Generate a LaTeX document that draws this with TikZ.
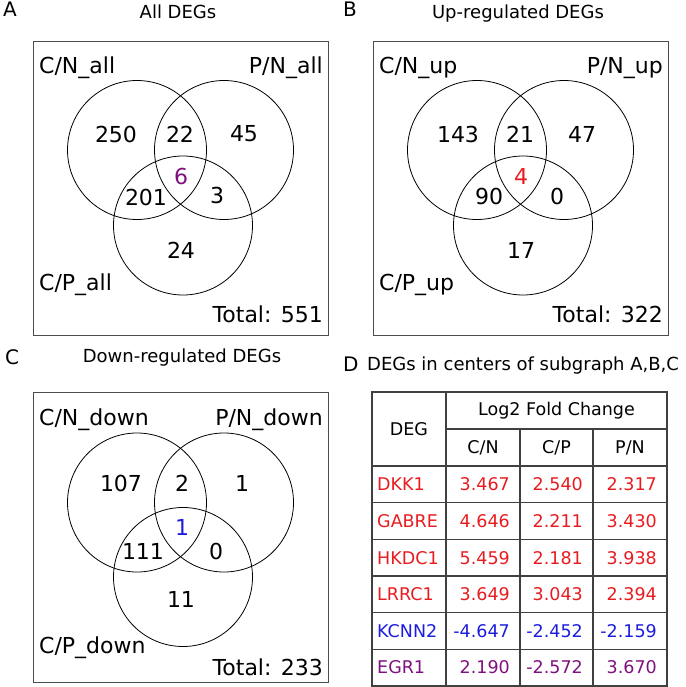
\documentclass[tikz,border=0pt]{standalone}
\usepackage{fontspec}
\setmainfont{DejaVu Sans}
\usetikzlibrary{positioning}

\definecolor{upred}{RGB}{232,28,32}
\definecolor{dnblue}{RGB}{28,28,222}
\definecolor{mixpurple}{RGB}{128,16,128}

\begin{document}
\begin{tikzpicture}[
  x=1pt, y=-1pt,
  font=\fontsize{22}{26}\selectfont,
  panel/.style={draw=black!70, line width=0.9pt},
  set/.style={
    circle, draw=black, line width=0.8pt,
    minimum size=139pt, inner sep=0pt
  },
  setlbl/.style={inner sep=0pt, font=\fontsize{22}{26}\selectfont},
  cnt/.style={inner sep=0pt, font=\fontsize{22}{26}\selectfont},
  ttl/.style={anchor=base, inner sep=0pt, font=\fontsize{18}{22}\selectfont},
  tag/.style={anchor=base west, inner sep=0pt, font=\fontsize{20}{24}\selectfont},
  cell/.style={inner sep=0pt, font=\fontsize{17.5}{21}\selectfont},
  grid/.style={draw=black!75, line width=1.2pt}
]
\useasboundingbox (0,0) rectangle (685,687);

% ─── A: all DEGs ────────────────────────────────────────────
\node[tag] (tagA) at (3,17) {A};
\node[ttl] (ttlA) at (178,19) {All DEGs};
\draw[panel] (33,41) rectangle (328,335);

\node[set] (a-cn) at (137,150) {};
\node[set] (a-pn) at (224,150) {};
\node[set] (a-cp) at (183,225.5) {};

\node[setlbl, anchor=base west] (a-lcn) at (39,74)  {C/N\_all};
\node[setlbl, anchor=base east] (a-lpn) at (323,74) {P/N\_all};
\node[setlbl, anchor=base west] (a-lcp) at (39,290) {C/P\_all};
\node[setlbl, anchor=base east] (a-tot) at (323,322) {Total: 551};

\node[cnt] (a-n1) at (116,134) {250};
\node[cnt] (a-n2) at (180,134) {22};
\node[cnt] (a-n3) at (244,134) {45};
\node[cnt, text=mixpurple] (a-n4) at (181,176) {6};
\node[cnt] (a-n5) at (146,197) {201};
\node[cnt] (a-n6) at (217,195) {3};
\node[cnt] (a-n7) at (181,250) {24};

% ─── B: up-regulated ────────────────────────────────────────
\begin{scope}[shift={(340,0)}]
\node[tag] (tagB) at (3,17) {B};
\node[ttl] (ttlB) at (178,19) {Up-regulated DEGs};
\draw[panel] (33,41) rectangle (328,335);

\node[set] (b-cn) at (137,150) {};
\node[set] (b-pn) at (224,150) {};
\node[set] (b-cp) at (183,225.5) {};

\node[setlbl, anchor=base west] (b-lcn) at (39,74)  {C/N\_up};
\node[setlbl, anchor=base east] (b-lpn) at (323,74) {P/N\_up};
\node[setlbl, anchor=base west] (b-lcp) at (39,290) {C/P\_up};
\node[setlbl, anchor=base east] (b-tot) at (323,322) {Total: 322};

\node[cnt] (b-n1) at (118,134) {143};
\node[cnt] (b-n2) at (180,134) {21};
\node[cnt] (b-n3) at (242,134) {47};
\node[cnt, text=upred] (b-n4) at (181,176) {4};
\node[cnt] (b-n5) at (149,196) {90};
\node[cnt] (b-n6) at (217,196) {0};
\node[cnt] (b-n7) at (181,250) {17};
\end{scope}

% ─── C: down-regulated ──────────────────────────────────────
\begin{scope}[shift={(0,351)}]
\node[tag] (tagC) at (5,13) {C};
\node[ttl] (ttlC) at (182,11) {Down-regulated DEGs};
\draw[panel] (33,41) rectangle (328,331);

\node[set] (c-cn) at (137,151.5) {};
\node[set] (c-pn) at (224,151.5) {};
\node[set] (c-cp) at (183,226) {};

\node[setlbl, anchor=base west] (c-lcn) at (39,74)  {C/N\_down};
\node[setlbl, anchor=base east] (c-lpn) at (323,74) {P/N\_down};
\node[setlbl, anchor=base west] (c-lcp) at (39,302) {C/P\_down};
\node[setlbl, anchor=base east] (c-tot) at (323,324) {Total: 233};

\node[cnt] (c-n1) at (121,132) {107};
\node[cnt] (c-n2) at (182,132) {2};
\node[cnt] (c-n3) at (242,132) {1};
\node[cnt, text=dnblue] (c-n4) at (182,176.5) {1};
\node[cnt] (c-n5) at (143,200.5) {111};
\node[cnt] (c-n6) at (216,200.5) {0};
\node[cnt] (c-n7) at (181,248) {11};
\end{scope}

% ─── D: table of centre DEGs ────────────────────────────────
\node[tag] (tagD) at (343,371) {D};
\node[ttl, anchor=base west] (ttlD) at (367,370) {DEGs in centers of subgraph A,B,C};

\draw[grid] (372,392) rectangle (667,686);
\draw[grid] (446,392) -- (446,686);
\draw[grid] (520,429) -- (520,686);
\draw[grid] (593,429) -- (593,686);
\draw[grid] (446,429) -- (667,429);
\draw[grid] (372,466) -- (667,466);
\draw[grid] (372,502.7) -- (667,502.7);
\draw[grid] (372,539.3) -- (667,539.3);
\draw[grid] (372,576) -- (667,576);
\draw[grid] (372,612.3) -- (667,612.3);
\draw[grid] (372,649.3) -- (667,649.3);

\node[cell] (h-deg) at (409,429)   {DEG};
\node[cell] (h-lfc) at (556.5,410.5) {Log2 Fold Change};
\node[cell] (h-cn)  at (483,447.5) {C/N};
\node[cell] (h-cp)  at (556.5,447.5) {C/P};
\node[cell] (h-pn)  at (630,447.5) {P/N};

\node[cell, text=upred, anchor=west] (r1-g) at (377,484.3) {DKK1};
\node[cell, text=upred, anchor=east] (r1-a) at (510,484.3) {3.467};
\node[cell, text=upred, anchor=east] (r1-b) at (583,484.3) {2.540};
\node[cell, text=upred, anchor=east] (r1-c) at (657,484.3) {2.317};

\node[cell, text=upred, anchor=west] (r2-g) at (377,521) {GABRE};
\node[cell, text=upred, anchor=east] (r2-a) at (510,521) {4.646};
\node[cell, text=upred, anchor=east] (r2-b) at (583,521) {2.211};
\node[cell, text=upred, anchor=east] (r2-c) at (657,521) {3.430};

\node[cell, text=upred, anchor=west] (r3-g) at (377,557.7) {HKDC1};
\node[cell, text=upred, anchor=east] (r3-a) at (510,557.7) {5.459};
\node[cell, text=upred, anchor=east] (r3-b) at (583,557.7) {2.181};
\node[cell, text=upred, anchor=east] (r3-c) at (657,557.7) {3.938};

\node[cell, text=upred, anchor=west] (r4-g) at (377,594.2) {LRRC1};
\node[cell, text=upred, anchor=east] (r4-a) at (510,594.2) {3.649};
\node[cell, text=upred, anchor=east] (r4-b) at (583,594.2) {3.043};
\node[cell, text=upred, anchor=east] (r4-c) at (657,594.2) {2.394};

\node[cell, text=dnblue, anchor=west] (r5-g) at (377,630.8) {KCNN2};
\node[cell, text=dnblue, anchor=east] (r5-a) at (510,630.8) {-4.647};
\node[cell, text=dnblue, anchor=east] (r5-b) at (583,630.8) {-2.452};
\node[cell, text=dnblue, anchor=east] (r5-c) at (657,630.8) {-2.159};

\node[cell, text=mixpurple, anchor=west] (r6-g) at (377,667.5) {EGR1};
\node[cell, text=mixpurple, anchor=east] (r6-a) at (510,667.5) {2.190};
\node[cell, text=mixpurple, anchor=east] (r6-b) at (583,667.5) {-2.572};
\node[cell, text=mixpurple, anchor=east] (r6-c) at (657,667.5) {3.670};

\end{tikzpicture}
\end{document}
